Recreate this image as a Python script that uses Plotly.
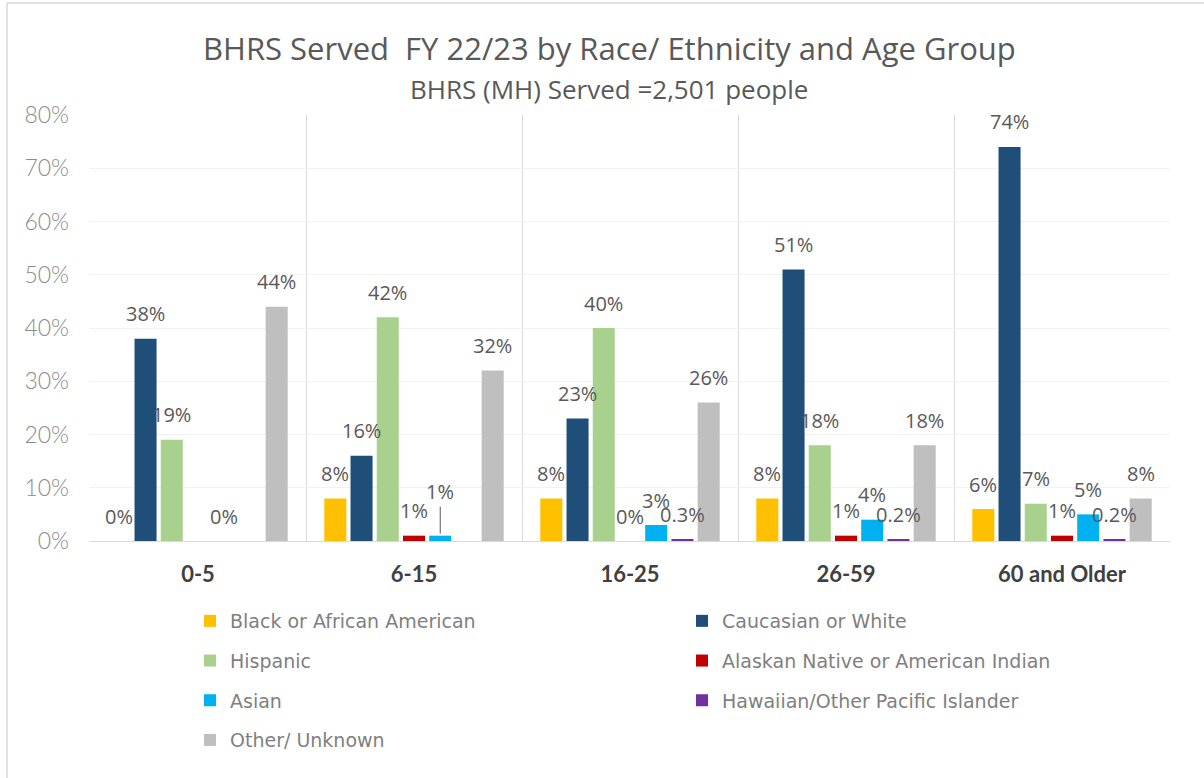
import plotly.graph_objects as go

# Age groups on the x axis
age_groups = ["0-5", "6-15", "16-25", "26-59", "60 and Older"]

# Share of people served (%) per race / ethnicity; None = no data label / no bar
black = [0, 8, 8, 8, 6]
caucasian = [38, 16, 23, 51, 74]
hispanic = [19, 42, 40, 18, 7]
alaskan = [None, 1, 0, 1, 1]
asian = [0, 1, 3, 4, 5]
hawaiian = [None, None, 0.3, 0.2, 0.2]
other = [44, 32, 26, 18, 8]

series_names = [
    "Black or African American",
    "Caucasian or White",
    "Hispanic",
    "Alaskan Native or American Indian",
    "Asian",
    "Hawaiian/Other Pacific Islander",
    "Other/ Unknown",
]
series_values = [black, caucasian, hispanic, alaskan, asian, hawaiian, other]
series_colors = ["#FFC000", "#1F4E79", "#A9D18E", "#C00000", "#00B0F0", "#7030A0", "#BFBFBF"]
# left legend column vs right legend column
series_legend = ["legend", "legend2", "legend", "legend2", "legend", "legend2", "legend"]

BARGAP = 0.15
BARGROUPGAP = 0.16
LABEL_FONT = dict(family="Open Sans", size=20, color="#595959")
LEGEND_FONT = dict(family="DejaVu Sans", size=19, color="#7F7F7F")

title_text = "BHRS Served  FY 22/23 by Race/ Ethnicity and Age Group"
subtitle_text = "BHRS (MH) Served =2,501 people"


def pct_label(v):
    if 0 < v < 1:
        return f"{v:.1f}%"
    return f"{v:.0f}%"


fig = go.Figure()
for name, vals, color, lg in zip(series_names, series_values, series_colors, series_legend):
    fig.add_trace(go.Bar(
        name=name,
        x=age_groups,
        y=vals,
        marker=dict(color=color, line=dict(width=0)),
        legend=lg,
        legendgroup=name,
        hoverinfo="x+y+name",
    ))

# Value labels placed above each bar in its grouped slot
n = len(series_values)
slot = (1 - BARGAP) / n
annotations = []
for j, vals in enumerate(series_values):
    off = -(1 - BARGAP) / 2 + (j + 0.5) * slot
    for i, v in enumerate(vals):
        if v is None:
            continue
        a = dict(
            x=i + off, y=v, xref="x", yref="y",
            text=pct_label(v), font=LABEL_FONT,
            showarrow=False, yanchor="middle", xanchor="center", yshift=25,
        )
        # 6-15 Asian label pulled up with a leader line
        if series_names[j] == "Asian" and age_groups[i] == "6-15":
            a.update(showarrow=True, arrowhead=0, arrowwidth=1, arrowcolor="#595959",
                     ax=0, ay=-44, yshift=0, standoff=2)
        annotations.append(a)

# Title and subtitle
annotations.append(dict(
    text=title_text, xref="paper", yref="paper", x=0.4806, y=(541 - 48) / 426,
    xanchor="center", yanchor="middle", showarrow=False,
    font=dict(family="Open Sans", size=31, color="#595959"),
))
annotations.append(dict(
    text=subtitle_text, xref="paper", yref="paper", x=0.4806, y=(541 - 89) / 426,
    xanchor="center", yanchor="middle", showarrow=False,
    font=dict(family="Open Sans", size=26, color="#595959"),
))

fig.update_layout(
    width=1204,
    height=778,
    paper_bgcolor="white",
    plot_bgcolor="white",
    margin=dict(l=90, r=34, t=115, b=237, autoexpand=False),
    barmode="group",
    bargap=BARGAP,
    bargroupgap=BARGROUPGAP,
    annotations=annotations,
    legend=dict(
        x=190 / 1204, xref="container", xanchor="left",
        y=1 - 602 / 778, yref="container", yanchor="top",
        traceorder="grouped", tracegroupgap=12,
        font=LEGEND_FONT,
        bgcolor="rgba(0,0,0,0)",
    ),
    legend2=dict(
        x=682 / 1204, xref="container", xanchor="left",
        y=1 - 602 / 778, yref="container", yanchor="top",
        traceorder="grouped", tracegroupgap=12,
        font=LEGEND_FONT,
        bgcolor="rgba(0,0,0,0)",
    ),
    shapes=[
        dict(type="line", xref="paper", yref="paper",
             x0=(7 - 90) / 1080, x1=(7 - 90) / 1080, y0=1 + 112 / 426, y1=-237 / 426 - 0.1,
             line=dict(color="#D9D9D9", width=1.5)),
        dict(type="line", xref="paper", yref="paper",
             x0=(7 - 90) / 1080, x1=1.1, y0=1 + 112 / 426, y1=1 + 112 / 426,
             line=dict(color="#D9D9D9", width=1.5)),
    ],
)

fig.update_xaxes(
    type="category",
    tickson="boundaries",
    showgrid=True, gridcolor="#D9D9D9", gridwidth=1,
    showline=True, linecolor="#D9D9D9", linewidth=1,
    ticks="", ticklabelstandoff=14, tickangle=0,
    tickfont=dict(family="Lato", size=22, color="#404040", weight="bold"),
)
fig.update_yaxes(
    range=[0, 80], dtick=10, ticksuffix="%",
    showgrid=True, gridcolor="#F2F2F2", gridwidth=1,
    zeroline=False, showline=False,
    ticks="", ticklabelstandoff=20,
    tickfont=dict(family="Lato", size=23, color="#8C8C8C", weight=300),
)

fig.write_html("out.html")
